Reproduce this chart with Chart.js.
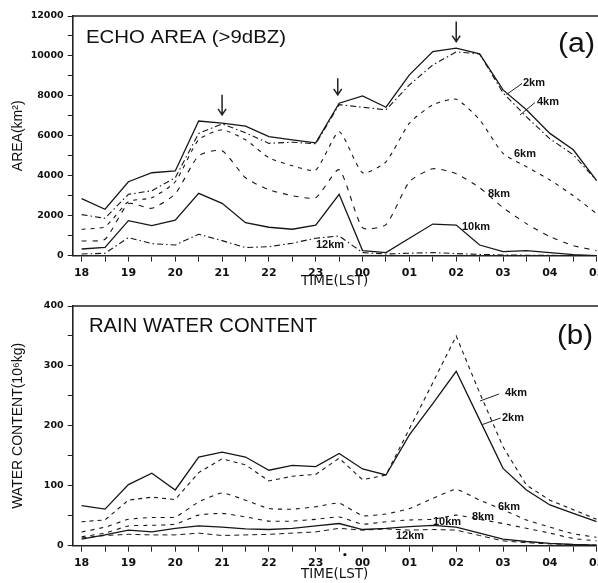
<!DOCTYPE html>
<html>
<head>
<meta charset="utf-8">
<script src="https://cdn.jsdelivr.net/npm/chart.js@4.4.0/dist/chart.umd.min.js"></script>
<style>
  html, body { margin: 0; padding: 0; background: #fff; }
  #wrap { position: relative; width: 598px; height: 583px; overflow: hidden; }
  #c1 { position: absolute; left: 0; top: 0; }
  #c2 { position: absolute; left: 0; top: 290px; }
</style>
</head>
<body>
<div id="wrap">
  <canvas id="c1" width="598" height="290"></canvas>
  <canvas id="c2" width="598" height="293"></canvas>
</div>
<script>
// ---- data ----
const timeHours = [18, 18.5, 19, 19.5, 20, 20.5, 21, 21.5, 22, 22.5, 23, 23.5,
                   24, 24.5, 25, 25.5, 26, 26.5, 27, 27.5, 28, 28.5, 29];
const hourTickLabels = ['18', '19', '20', '21', '22', '23', '00', '01', '02', '03', '04', '05'];
const heightLabels = ['2km', '4km', '6km', '8km', '10km', '12km'];

// (a) echo area (km^2)
const echoArea2km  = [2850, 2320, 3700, 4150, 4240, 6740, 6630, 6480, 5960, 5800, 5650, 7630, 8000, 7430, 9050, 10220, 10390, 10100, 8300, 7300, 6120, 5300, 3750];
const echoArea4km  = [2050, 1870, 3070, 3250, 3900, 6120, 6600, 6150, 5620, 5680, 5600, 7560, 7430, 7300, 8550, 9550, 10200, 10100, 8150, 6950, 5850, 5050, 3750];
const echoArea6km  = [1320, 1450, 2700, 2900, 3700, 5800, 6300, 5800, 4900, 4500, 4290, 6200, 4150, 4700, 6630, 7550, 7830, 6800, 5120, 4450, 3790, 3000, 2100];
const echoArea8km  = [730, 820, 2600, 2370, 3100, 5000, 5250, 3900, 3300, 3000, 2900, 4300, 1400, 1550, 3700, 4350, 4100, 3400, 2400, 1600, 950, 500, 250];
const echoArea10km = [330, 415, 1750, 1500, 1780, 3120, 2620, 1650, 1420, 1320, 1530, 3070, 250, 150, 870, 1580, 1530, 530, 200, 250, 150, 50, 0];
const echoArea12km = [80, 115, 900, 600, 530, 1070, 750, 400, 450, 620, 870, 980, 150, 80, 120, 150, 100, 60, 30, 20, 10, 0, 0];

// (b) rain water content (10^6 kg)
const rainWater2km  = [67, 61, 102, 121, 93, 148, 156, 148, 126, 134, 132, 154, 128, 118, 185, 237, 291, 210, 129, 93, 68, 54, 40];
const rainWater4km  = [40, 43, 76, 81, 77, 122, 145, 135, 108, 116, 119, 146, 110, 118, 195, 272, 350, 255, 165, 101, 76, 60, 44];
const rainWater6km  = [23, 31, 44, 47, 48, 73, 88, 76, 62, 61, 65, 71, 50, 53, 62, 79, 94, 76, 60, 43, 31, 20, 14];
const rainWater8km  = [15, 21, 33, 34, 36, 51, 54, 48, 41, 41, 44, 48, 36, 40, 43, 44, 51, 44, 37, 29, 21, 12, 8];
const rainWater10km = [11, 18, 26, 23, 29, 33, 31, 28, 27, 29, 33, 37, 27, 29, 32, 34, 31, 21, 11, 7, 4, 2, 1];
const rainWater12km = [13, 17, 19, 18, 18, 21, 17, 18, 19, 21, 23, 29, 26, 28, 26, 27, 26, 17, 8, 5, 3, 2, 1];

// ---- styling ----
const INK = '#161616';
const DASH_DOT = [6, 3, 1.5, 3];
const lineStyles = [
  { dash: [], width: 1.3, tension: 0 },          // 2km
  { dash: DASH_DOT, width: 1.1, tension: 0 },    // 4km
  { dash: [4, 5], width: 1.1, tension: 0.2 },    // 6km
  { dash: [5, 6], width: 1.1, tension: 0.2 },    // 8km
  { dash: [], width: 1.3, tension: 0 },          // 10km
  { dash: DASH_DOT, width: 1.1, tension: 0 }     // 12km
];
const lineStylesB = [
  { dash: [], width: 1.3, tension: 0 },
  { dash: [4, 4], width: 1.1, tension: 0 },
  { dash: [4, 5], width: 1.1, tension: 0.15 },
  { dash: [4, 5], width: 1.1, tension: 0.15 },
  { dash: [], width: 1.3, tension: 0 },
  { dash: [5, 4], width: 1.0, tension: 0 }
];

function makeDatasets(seriesList, styles) {
  return seriesList.map((vals, i) => ({
    label: heightLabels[i],
    data: vals.map((v, k) => ({ x: timeHours[k], y: v })),
    borderColor: INK,
    borderWidth: styles[i].width,
    borderDash: styles[i].dash,
    tension: styles[i].tension,
    pointRadius: 0,
    fill: false
  }));
}

// draw text stretched horizontally to a target width
function fillFit(ctx, text, x, y, width) {
  const w = ctx.measureText(text).width;
  ctx.save();
  ctx.translate(x, y);
  ctx.scale(width / w, 1);
  ctx.fillText(text, 0, 0);
  ctx.restore();
}

const overlay = {
  id: 'overlay',
  afterDraw(chart, args, o) {
    const { ctx, chartArea: a, scales } = chart;
    const xs = scales.x, ys = scales.y;
    ctx.save();
    // top frame line
    ctx.strokeStyle = '#222';
    ctx.lineWidth = 1.4;
    ctx.setLineDash([]);
    ctx.beginPath();
    ctx.moveTo(a.left, a.top);
    ctx.lineTo(chart.width, a.top);
    ctx.stroke();
    // panel title and tag
    ctx.fillStyle = '#111';
    ctx.textAlign = 'left';
    ctx.textBaseline = 'alphabetic';
    ctx.font = o.titleFont;
    fillFit(ctx, o.title, o.titleX, o.titleY, o.titleW);
    ctx.font = o.tagFont;
    fillFit(ctx, o.tag, o.tagX, o.tagY, o.tagW);
    // curve labels
    ctx.font = 'bold 11px "Liberation Sans", Arial, sans-serif';
    ctx.textBaseline = 'middle';
    (o.labels || []).forEach(l => ctx.fillText(l.text, l.x, l.y));
    // leader lines
    ctx.lineWidth = 1;
    (o.leaders || []).forEach(s => {
      ctx.beginPath(); ctx.moveTo(s[0], s[1]); ctx.lineTo(s[2], s[3]); ctx.stroke();
    });
    // arrows (hour, top value, tip value)
    ctx.lineWidth = 1.5;
    (o.arrows || []).forEach(ar => {
      const px = xs.getPixelForValue(ar[0]);
      const y0 = ys.getPixelForValue(ar[1]);
      const y1 = ys.getPixelForValue(ar[2]);
      ctx.beginPath();
      ctx.moveTo(px, y0); ctx.lineTo(px, y1);
      ctx.moveTo(px - 4, y1 - 6); ctx.lineTo(px, y1); ctx.lineTo(px + 4, y1 - 6);
      ctx.stroke();
    });
    // extra marks
    (o.marks || []).forEach(m => {
      ctx.font = m.font; ctx.textAlign = 'center'; ctx.textBaseline = 'middle';
      ctx.fillText(m.text, m.x, m.y);
    });
    ctx.restore();
  }
};

function makeOptions(cfg) {
  return {
    responsive: false,
    animation: false,
    layout: { padding: { left: 0, right: 1.3, top: 16, bottom: 0 } },
    plugins: {
      legend: { display: false },
      tooltip: { enabled: false },
      overlay: cfg.overlay
    },
    scales: {
      x: {
        type: 'linear',
        min: 17.81,
        max: 29,
        afterFit(s) { s.height = cfg.xHeight; s.paddingLeft = 0; s.paddingRight = 0; },
        afterBuildTicks(s) {
          s.ticks = timeHours.map(v => ({ value: v }));
        },
        ticks: {
          autoSkip: false,
          maxRotation: 0,
          padding: 5,
          color: '#111',
          font: { family: 'DejaVu Sans', weight: 'bold', size: 11 },
          callback: v => (Number.isInteger(v) ? hourTickLabels[v - 18] : '')
        },
        grid: { display: true, drawOnChartArea: false, drawTicks: true, tickLength: 6, color: '#222' },
        border: { display: true, color: '#222', width: 1.6 },
        title: {
          display: true,
          text: 'TIME(LST)',
          color: '#111',
          font: { family: 'DejaVu Sans', size: 13.5 },
          padding: { top: 0, bottom: 0 }
        }
      },
      y: {
        type: 'linear',
        min: 0,
        max: cfg.yMax,
        afterFit(s) { s.width = 72.7; s.paddingTop = 0; s.paddingBottom = 0; },
        ticks: {
          stepSize: cfg.yStep,
          padding: 4,
          color: '#111',
          font: { family: 'DejaVu Sans', weight: 'bold', size: 9.5 },
          callback: v => (v % cfg.yLabelStep === 0 ? String(v) : '')
        },
        grid: { display: true, drawOnChartArea: false, drawTicks: true, tickLength: 5, color: '#222' },
        border: { display: true, color: '#222', width: 1.6 },
        title: {
          display: true,
          text: cfg.yTitle,
          color: '#111',
          font: { family: 'Liberation Sans', size: 14 },
          padding: { top: 10, bottom: 0 }
        }
      }
    }
  };
}

new Chart(document.getElementById('c1'), {
  type: 'line',
  data: {
    datasets: makeDatasets([echoArea2km, echoArea4km, echoArea6km, echoArea8km, echoArea10km, echoArea12km], lineStyles)
  },
  options: makeOptions({
    xHeight: 290 - 255.6,
    yMax: 12000, yStep: 1000, yLabelStep: 2000,
    yTitle: 'AREA(km²)',
    overlay: {
      title: 'ECHO AREA (>9dBZ)',
      titleFont: '18.5px "Liberation Sans", Arial, sans-serif',
      titleX: 86, titleY: 42.7, titleW: 200,
      tag: '(a)',
      tagFont: '27px "Liberation Sans", Arial, sans-serif',
      tagX: 558, tagY: 52, tagW: 37,
      labels: [
        { text: '2km', x: 523, y: 83 },
        { text: '4km', x: 537, y: 102 },
        { text: '6km', x: 514, y: 154 },
        { text: '8km', x: 488, y: 194 },
        { text: '10km', x: 462, y: 227 },
        { text: '12km', x: 316, y: 245 }
      ],
      leaders: [[506.5, 94.5, 522, 83.5], [520, 115, 535, 102.5]],
      arrows: [[21, 8050, 7050], [23.47, 8880, 8050], [26, 11720, 10720]]
    }
  }),
  plugins: [overlay]
});

new Chart(document.getElementById('c2'), {
  type: 'line',
  data: {
    datasets: makeDatasets([rainWater2km, rainWater4km, rainWater6km, rainWater8km, rainWater10km, rainWater12km], lineStylesB)
  },
  options: makeOptions({
    xHeight: 293 - 255.7,
    yMax: 400, yStep: 50, yLabelStep: 100,
    yTitle: 'WATER CONTENT(10⁶kg)',
    overlay: {
      title: 'RAIN WATER CONTENT',
      titleFont: '20px "Liberation Sans", Arial, sans-serif',
      titleX: 89, titleY: 41.7, titleW: 228,
      tag: '(b)',
      tagFont: '27px "Liberation Sans", Arial, sans-serif',
      tagX: 557, tagY: 54, tagW: 36,
      labels: [
        { text: '4km', x: 505, y: 103 },
        { text: '2km', x: 502, y: 128 },
        { text: '6km', x: 498, y: 216.5 },
        { text: '8km', x: 472, y: 227 },
        { text: '10km', x: 433, y: 232 },
        { text: '12km', x: 396, y: 246 }
      ],
      leaders: [[480, 111, 499, 104], [482.5, 134.5, 500.5, 128]],
      arrows: [],
      marks: [{ text: '•', x: 345, y: 266, font: 'bold 9px "DejaVu Sans", sans-serif' }]
    }
  }),
  plugins: [overlay]
});
</script>
</body>
</html>
